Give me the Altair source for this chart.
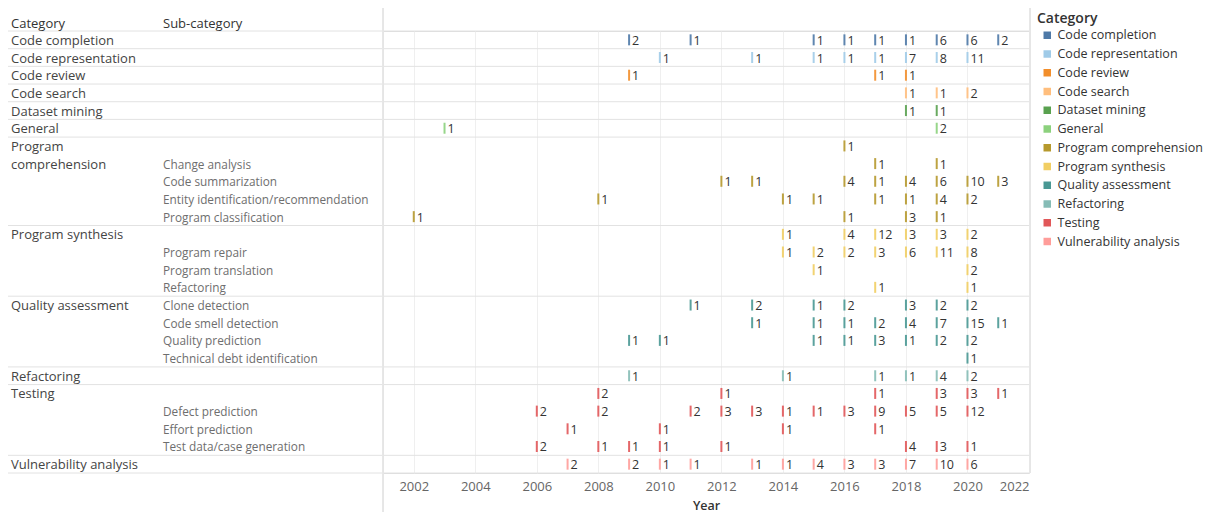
import altair as alt
import pandas as pd

FONT = "Open Sans"

CATEGORIES = ["Code completion", "Code representation", "Code review", "Code search",
              "Dataset mining", "General", "Program comprehension", "Program synthesis",
              "Quality assessment", "Refactoring", "Testing", "Vulnerability analysis"]
COLORS = ["#4e79a7", "#a0cbe8", "#f28e2b", "#ffbe7d", "#59a14f", "#8cd17d",
          "#b6992d", "#f1ce63", "#499894", "#86bcb6", "#e15759", "#ff9d9a"]

ROW_CATEGORY = [
    "Code completion", "Code representation", "Code review", "Code search",
    "Dataset mining", "General",
    "Program comprehension", "Program comprehension", "Program comprehension",
    "Program comprehension", "Program comprehension",
    "Program synthesis", "Program synthesis", "Program synthesis", "Program synthesis",
    "Quality assessment", "Quality assessment", "Quality assessment", "Quality assessment",
    "Refactoring",
    "Testing", "Testing", "Testing", "Testing",
    "Vulnerability analysis",
]
ROW_SUBCATEGORY = [
    "", "", "", "", "", "",
    "", "Change analysis", "Code summarization", "Entity identification/recommendation",
    "Program classification",
    "", "Program repair", "Program translation", "Refactoring",
    "Clone detection", "Code smell detection", "Quality prediction", "Technical debt identification",
    "",
    "", "Defect prediction", "Effort prediction", "Test data/case generation",
    "",
]
ROW_YEARS = [
    [2009, 2011, 2015, 2016, 2017, 2018, 2019, 2020, 2021],
    [2010, 2013, 2015, 2016, 2017, 2018, 2019, 2020],
    [2009, 2017, 2018],
    [2018, 2019, 2020],
    [2018, 2019],
    [2003, 2019],
    [2016],
    [2017, 2019],
    [2012, 2013, 2016, 2017, 2018, 2019, 2020, 2021],
    [2008, 2014, 2015, 2017, 2018, 2019, 2020],
    [2002, 2016, 2018, 2019],
    [2014, 2016, 2017, 2018, 2019, 2020],
    [2014, 2015, 2016, 2017, 2018, 2019, 2020],
    [2015, 2020],
    [2017, 2020],
    [2011, 2013, 2015, 2016, 2018, 2019, 2020],
    [2013, 2015, 2016, 2017, 2018, 2019, 2020, 2021],
    [2009, 2010, 2015, 2016, 2017, 2018, 2019, 2020],
    [2020],
    [2009, 2014, 2017, 2018, 2019, 2020],
    [2008, 2012, 2017, 2019, 2020, 2021],
    [2006, 2008, 2011, 2012, 2013, 2014, 2015, 2016, 2017, 2018, 2019, 2020],
    [2007, 2010, 2014, 2017],
    [2006, 2008, 2009, 2010, 2012, 2018, 2019, 2020],
    [2007, 2009, 2010, 2011, 2013, 2014, 2015, 2016, 2017, 2018, 2019, 2020],
]
ROW_COUNTS = [
    [2, 1, 1, 1, 1, 1, 6, 6, 2],
    [1, 1, 1, 1, 1, 7, 8, 11],
    [1, 1, 1],
    [1, 1, 2],
    [1, 1],
    [1, 2],
    [1],
    [1, 1],
    [1, 1, 4, 1, 4, 6, 10, 3],
    [1, 1, 1, 1, 1, 4, 2],
    [1, 1, 3, 1],
    [1, 4, 12, 3, 3, 2],
    [1, 2, 2, 3, 6, 11, 8],
    [1, 2],
    [1, 1],
    [1, 2, 1, 2, 3, 2, 2],
    [1, 1, 1, 2, 4, 7, 15, 1],
    [1, 1, 1, 1, 3, 1, 2, 2],
    [1],
    [1, 1, 1, 1, 4, 2],
    [2, 1, 1, 3, 3, 1],
    [2, 2, 2, 3, 3, 1, 1, 3, 9, 5, 5, 12],
    [1, 1, 1, 1],
    [2, 1, 1, 1, 1, 4, 3, 1],
    [2, 2, 1, 1, 1, 1, 4, 3, 3, 7, 10, 6],
]
YEAR_TICKS = list(range(2002, 2023, 2))
WRAPPED = {"Program comprehension": ["Program", "comprehension"]}

N = len(ROW_CATEGORY)

# ---- tables ----
pts = []
for r in range(N):
    for yv, c in zip(ROW_YEARS[r], ROW_COUNTS[r]):
        pts.append({"ypos": r + 0.5, "Year": yv, "Count": c, "Category": ROW_CATEGORY[r]})
pts = pd.DataFrame(pts)

cat_lbl = []
prev = None
line_i = 0
for r in range(N):
    c = ROW_CATEGORY[r]
    if c != prev:
        line_i = 0
    lines = WRAPPED.get(c, [c])
    if line_i < len(lines):
        cat_lbl.append({"ypos": r + 0.5, "text": lines[line_i]})
    line_i += 1
    prev = c
cat_lbl = pd.DataFrame(cat_lbl)

sub_lbl = pd.DataFrame([{"ypos": r + 0.5, "text": ROW_SUBCATEGORY[r]}
                        for r in range(N) if ROW_SUBCATEGORY[r]])

bounds = [0] + [r for r in range(1, N) if ROW_CATEGORY[r] != ROW_CATEGORY[r - 1]] + [N]
bounds = pd.DataFrame({"b": bounds})

W, H = 646, 442
yscale = alt.Scale(domain=[0, N], reverse=True, nice=False, zero=False)
xscale = alt.Scale(domain=[2001, 2022], nice=False, zero=False)

xaxis = alt.Axis(
    values=YEAR_TICKS, format="d", title="Year", ticks=False, domain=False,
    grid=True, gridColor="#efefef", gridWidth=1,
    labelColor="#666666", labelFontSize=13, labelFont=FONT, labelPadding=7,
    labelAlign={"condition": {"test": "datum.value >= 2022", "value": "right"}, "value": "center"},
    titleColor="#333333", titleFontSize=12.5, titleFont=FONT, titleFontWeight=600,
    titlePadding=6,
)

seps = alt.Chart(bounds).mark_rule(color="#e2e2e2", strokeWidth=1).encode(
    y=alt.Y("b:Q", scale=yscale, axis=None),
    x=alt.value(-375), x2=alt.value(W + 1),
)

left_border = alt.Chart(bounds).mark_rule(color="#e6e6e6").encode(
    x=alt.value(0), y=alt.value(-23), y2=alt.value(H + 40)
)
right_border = alt.Chart(bounds).mark_rule(color="#e6e6e6").encode(
    x=alt.value(W + 1), y=alt.value(-23), y2=alt.value(H)
)

ticks = alt.Chart(pts).mark_tick(orient="vertical", thickness=2, size=11, opacity=0.9).encode(
    x=alt.X("Year:Q", scale=xscale, axis=xaxis),
    y=alt.Y("ypos:Q", scale=yscale, axis=None),
    color=alt.Color(
        "Category:N",
        scale=alt.Scale(domain=CATEGORIES, range=COLORS),
        legend=alt.Legend(
            title="Category", orient="none", legendX=654, legendY=-19,
            symbolType="square", symbolSize=56, symbolOffset=4, symbolStrokeWidth=0,
            symbolOpacity=1,
            labelFontSize=12.5, labelFont=FONT, labelColor="#333333", labelOffset=4,
            titleFontSize=14, titleFont=FONT, titleColor="#333333", titleFontWeight=600,
            titlePadding=3, rowPadding=5.75, padding=0,
        ),
    ),
)

nums = alt.Chart(pts).mark_text(align="left", baseline="middle", dx=3, dy=1, fontSize=12.5,
                                font=FONT, color="#333333").encode(
    x=alt.X("Year:Q", scale=xscale),
    y=alt.Y("ypos:Q", scale=yscale),
    text="Count:Q",
)

cats = alt.Chart(cat_lbl).mark_text(align="left", baseline="middle", dy=1, fontSize=13,
                                    font=FONT, color="#444444").encode(
    x=alt.value(-372),
    y=alt.Y("ypos:Q", scale=yscale),
    text="text:N",
)
subs = alt.Chart(sub_lbl).mark_text(align="left", baseline="middle", dy=1, fontSize=11.8,
                                    font=FONT, color="#6e6e6e").encode(
    x=alt.value(-220),
    y=alt.Y("ypos:Q", scale=yscale),
    text="text:N",
)

hdr = pd.DataFrame({"text": ["Category", "Sub-category"]})
hdr_cat = alt.Chart(hdr.iloc[[0]]).mark_text(align="left", baseline="middle", fontSize=13,
                                             font=FONT, color="#333333").encode(
    x=alt.value(-372), y=alt.value(-7), text="text:N")
hdr_sub = alt.Chart(hdr.iloc[[1]]).mark_text(align="left", baseline="middle", fontSize=13,
                                             font=FONT, color="#333333").encode(
    x=alt.value(-220), y=alt.value(-7), text="text:N")

chart = alt.layer(
    seps, left_border, right_border, ticks, nums, cats, subs, hdr_cat, hdr_sub
).properties(
    width=W, height=H,
    autosize=alt.AutoSizeParams(type="none"),
    padding={"left": 375, "top": 23, "right": 174, "bottom": 39},
).configure_view(stroke=None).configure(font=FONT)

chart.save("out.html", embed_options={"renderer": "svg", "actions": False})
